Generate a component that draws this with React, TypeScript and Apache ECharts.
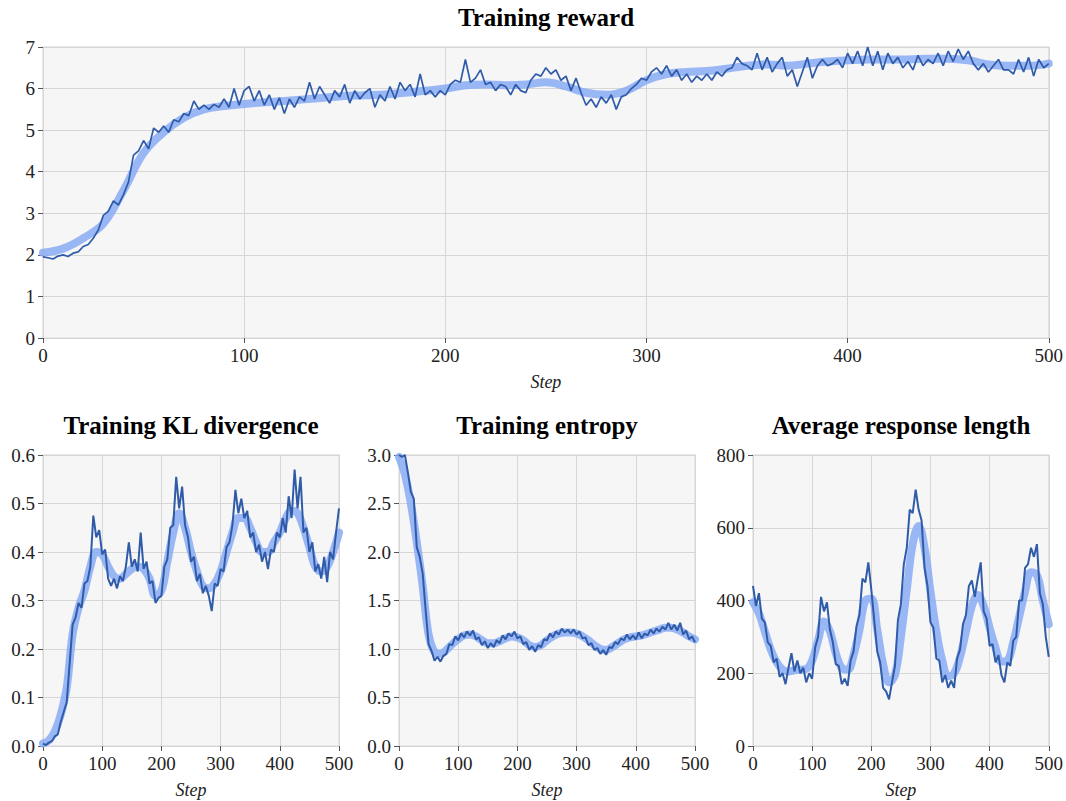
import React, { useEffect, useRef } from "react";
import * as echarts from "echarts";

// Raw reward, sampled every 2.5 steps (0..500)
const rewardRaw = [
  1.95, 1.93, 1.9, 1.97, 2.0, 1.96, 2.04, 2.07, 2.2, 2.25, 2.4, 2.6, 2.95, 3.05, 3.3, 3.2, 3.45, 3.75, 4.4, 4.5,
  4.75, 4.55, 5.05, 4.95, 5.1, 4.95, 5.25, 5.2, 5.4, 5.35, 5.7, 5.5, 5.6, 5.5, 5.62, 5.55, 5.75, 5.55, 6.0, 5.6,
  5.95, 6.05, 5.7, 5.95, 5.6, 5.85, 5.5, 5.78, 5.4, 5.75, 5.55, 5.8, 5.7, 6.15, 5.75, 6.05, 5.85, 5.65, 5.95, 5.8,
  6.1, 5.65, 5.95, 5.75, 5.9, 6.0, 5.55, 5.85, 5.7, 6.05, 5.75, 6.15, 5.95, 6.1, 5.8, 6.35, 5.85, 5.95, 5.8, 5.95,
  5.85, 6.1, 6.2, 6.15, 6.7, 6.15, 6.25, 6.45, 6.1, 6.15, 5.95, 6.1, 6.05, 5.85, 6.1, 5.95, 5.9, 6.2, 6.35, 6.3,
  6.5, 6.35, 6.45, 6.2, 6.3, 5.95, 6.25, 5.9, 5.6, 5.75, 5.55, 5.8, 5.65, 5.85, 5.5, 5.8, 5.85, 6.0, 6.1, 6.25,
  6.2, 6.4, 6.5, 6.35, 6.55, 6.3, 6.45, 6.2, 6.35, 6.15, 6.3, 6.2, 6.35, 6.2, 6.4, 6.3, 6.45, 6.5, 6.75, 6.6,
  6.55, 6.45, 6.85, 6.45, 6.75, 6.4, 6.6, 6.75, 6.3, 6.45, 6.05, 6.4, 6.75, 6.25, 6.55, 6.7, 6.55, 6.6, 6.7, 6.5,
  6.85, 6.6, 6.9, 6.55, 7.0, 6.55, 6.9, 6.45, 6.85, 6.6, 6.75, 6.5, 6.65, 6.45, 6.8, 6.55, 6.7, 6.6, 6.85, 6.55,
  6.9, 6.65, 6.95, 6.7, 6.9, 6.6, 6.45, 6.6, 6.4, 6.55, 6.7, 6.45, 6.45, 6.35, 6.7, 6.4, 6.75, 6.3, 6.7, 6.5,
  6.6,
];
// Raw KL / entropy / length, sampled every 5 steps (0..500)
const klRaw = [
  0.005, 0.002, 0.007, 0.01, 0.02, 0.024, 0.05, 0.07, 0.09, 0.17, 0.25, 0.265, 0.295, 0.285, 0.335, 0.34, 0.37, 0.475, 0.43, 0.445,
  0.395, 0.405, 0.345, 0.33, 0.345, 0.325, 0.35, 0.34, 0.37, 0.42, 0.37, 0.385, 0.36, 0.44, 0.365, 0.38, 0.335, 0.34, 0.295, 0.305,
  0.31, 0.37, 0.385, 0.45, 0.455, 0.555, 0.49, 0.535, 0.455, 0.43, 0.38, 0.39, 0.34, 0.355, 0.315, 0.33, 0.31, 0.278, 0.335, 0.33,
  0.365, 0.36, 0.41, 0.42, 0.455, 0.528, 0.48, 0.51, 0.47, 0.485, 0.43, 0.44, 0.4, 0.415, 0.38, 0.4, 0.365, 0.405, 0.4, 0.44,
  0.43, 0.47, 0.44, 0.515, 0.47, 0.57, 0.49, 0.555, 0.44, 0.45, 0.4, 0.42, 0.36, 0.375, 0.345, 0.39, 0.338, 0.4, 0.385, 0.44, 0.49,
];
const entropyRaw = [
  3.0, 2.98, 3.0, 2.82, 2.62, 2.55, 2.05, 1.95, 1.78, 1.4, 1.05, 0.98, 0.88, 0.92, 0.87, 0.93, 0.95, 1.05, 1.04, 1.13,
  1.09, 1.16, 1.12, 1.18, 1.14, 1.19, 1.1, 1.12, 1.04, 1.08, 1.01, 1.06, 1.02, 1.09, 1.06, 1.14, 1.1, 1.16, 1.13, 1.18,
  1.11, 1.13, 1.05, 1.07, 0.99, 1.03, 0.97, 1.04, 1.02, 1.1, 1.09, 1.16, 1.12, 1.18, 1.15, 1.21, 1.17, 1.2, 1.16, 1.2,
  1.15, 1.18, 1.11, 1.12, 1.04, 1.06, 0.99, 1.01, 0.95, 0.99, 0.94, 1.02, 1.01, 1.07, 1.05, 1.11, 1.09, 1.15, 1.1, 1.14,
  1.1, 1.17, 1.11, 1.16, 1.14, 1.2, 1.16, 1.21, 1.18, 1.23, 1.2, 1.27, 1.2, 1.25, 1.19, 1.27, 1.15, 1.19, 1.1, 1.13, 1.07,
];
const lengthRaw = [
  440, 385, 420, 350, 340, 285, 275, 230, 240, 190, 200, 170, 215, 255, 205, 235, 200, 215, 175, 200,
  185, 270, 300, 410, 370, 395, 320, 285, 225, 220, 170, 185, 165, 235, 260, 330, 360, 460, 450, 505,
  430, 345, 260, 230, 160, 150, 128, 175, 220, 345, 390, 500, 545, 650, 640, 705, 650, 620, 490, 440,
  340, 325, 240, 235, 175, 195, 160, 180, 160, 240, 265, 335, 360, 440, 455, 410, 460, 505, 370, 350,
  275, 280, 230, 250, 195, 175, 230, 220, 290, 300, 400, 400, 490, 500, 545, 520, 555, 420, 390, 300, 245,
];

// Smoothed trend series, sampled every 10 steps (0..500)
const rewardSmooth = [
  2.05, 2.15, 2.4, 2.75, 3.55, 4.45, 4.95, 5.3, 5.5, 5.58,
  5.63, 5.67, 5.7, 5.74, 5.78, 5.82, 5.84, 5.86, 5.9, 5.95,
  6.0, 6.08, 6.1, 6.08, 6.1, 6.15, 6.05, 5.9, 5.85, 5.95,
  6.2, 6.35, 6.4, 6.42, 6.48, 6.55, 6.58, 6.55, 6.6, 6.65,
  6.68, 6.7, 6.7, 6.7, 6.72, 6.72, 6.68, 6.58, 6.55, 6.55, 6.6,
];
const klSmooth = [
  0.005, 0.012, 0.03, 0.065, 0.12, 0.23, 0.285, 0.32, 0.37, 0.4,
  0.395, 0.37, 0.35, 0.345, 0.355, 0.365, 0.37, 0.365, 0.345, 0.31,
  0.32, 0.38, 0.44, 0.48, 0.45, 0.4, 0.36, 0.33, 0.325, 0.335,
  0.36, 0.4, 0.44, 0.47, 0.47, 0.45, 0.42, 0.4, 0.4, 0.42,
  0.44, 0.47, 0.485, 0.48, 0.45, 0.41, 0.37, 0.36, 0.37, 0.4, 0.44,
];
const entropySmooth = [
  2.98, 2.8, 2.5, 2.1, 1.65, 1.15, 0.97, 0.95, 0.99, 1.05,
  1.1, 1.14, 1.15, 1.13, 1.09, 1.06, 1.06, 1.08, 1.11, 1.13,
  1.12, 1.09, 1.04, 1.02, 1.04, 1.09, 1.13, 1.16, 1.17, 1.17,
  1.16, 1.13, 1.09, 1.04, 1.0, 0.99, 1.02, 1.06, 1.1, 1.12,
  1.13, 1.14, 1.16, 1.18, 1.2, 1.22, 1.22, 1.2, 1.17, 1.13, 1.1,
];
const lengthSmooth = [
  395, 365, 315, 265, 230, 210, 205, 208, 210, 212,
  235, 290, 342, 315, 255, 215, 210, 250, 320, 400,
  405, 320, 225, 175, 195, 300, 430, 555, 605, 545,
  425, 315, 235, 192, 200, 245, 315, 385, 415, 385,
  325, 270, 232, 235, 285, 355, 425, 478, 470, 400, 335,
];

const titles = ["Training reward", "Training KL divergence", "Training entropy", "Average response length"];
const xTicks = [0, 100, 200, 300, 400, 500];
const yRanges = [
  { min: 0, max: 7, interval: 1, digits: 0 },
  { min: 0, max: 0.6, interval: 0.1, digits: 1 },
  { min: 0, max: 3, interval: 0.5, digits: 1 },
  { min: 0, max: 800, interval: 200, digits: 0 },
];
const rawEvery = [2.5, 5, 5, 5];

const FONT = "'Liberation Serif', serif";
const RAW_COLOR = "#2f5ba8";
const SMOOTH_COLOR = "rgba(138,172,245,0.85)";

const withSteps = (arr: number[], every: number) => arr.map((v, i) => [i * every, v]);

export default function App() {
  const ref = useRef<HTMLDivElement>(null);
  useEffect(() => {
    if (!ref.current) return;
    const chart = echarts.init(ref.current, null, { renderer: "svg" });
    const grids = [
      { left: 43, top: 47, width: 1006, height: 291 },
      { left: 43, top: 455, width: 296, height: 291 },
      { left: 399, top: 455, width: 296, height: 291 },
      { left: 753, top: 455, width: 296, height: 291 },
    ];
    const raws = [rewardRaw, klRaw, entropyRaw, lengthRaw];
    const smooths = [rewardSmooth, klSmooth, entropySmooth, lengthSmooth];
    const option: any = {
      animation: false,
      backgroundColor: "#ffffff",
      textStyle: { fontFamily: FONT },
      grid: grids.map((g) => ({
        ...g,
        show: true,
        backgroundColor: "#f6f6f6",
        borderColor: "#e2e2e2",
        borderWidth: 1.5,
        containLabel: false,
      })),
      xAxis: grids.map((_, i) => ({
        type: "value",
        gridIndex: i,
        min: xTicks[0],
        max: xTicks[xTicks.length - 1],
        interval: xTicks[1] - xTicks[0],
        name: "Step",
        nameLocation: "middle",
        nameGap: 35,
        nameTextStyle: { fontFamily: FONT, fontStyle: "italic", fontSize: 18, color: "#222" },
        axisLine: { show: false },
        axisTick: { show: true, length: 5, lineStyle: { color: "#555", width: 1 } },
        axisLabel: { fontFamily: FONT, fontSize: 19, color: "#222", margin: 8 },
        splitLine: { show: true, lineStyle: { color: "#d6d6d6", width: 1 } },
      })),
      yAxis: grids.map((_, i) => ({
        type: "value",
        gridIndex: i,
        min: yRanges[i].min,
        max: yRanges[i].max,
        interval: yRanges[i].interval,
        axisLine: { show: false },
        axisTick: { show: true, length: 5, lineStyle: { color: "#555", width: 1 } },
        axisLabel: {
          fontFamily: FONT,
          fontSize: 19,
          color: "#222",
          margin: 8,
          formatter: (v: number) => v.toFixed(yRanges[i].digits),
        },
        splitLine: { show: true, lineStyle: { color: "#d6d6d6", width: 1 } },
      })),
      series: [
        ...smooths.map((s, i) => ({
          type: "line",
          xAxisIndex: i,
          yAxisIndex: i,
          data: withSteps(s, 10),
          smooth: 0.4,
          showSymbol: false,
          lineStyle: { color: SMOOTH_COLOR, width: 8, cap: "round", join: "round" },
          z: 2,
        })),
        ...raws.map((r, i) => ({
          type: "line",
          xAxisIndex: i,
          yAxisIndex: i,
          data: withSteps(r, rawEvery[i]),
          showSymbol: false,
          lineStyle: { color: RAW_COLOR, width: i === 0 ? 1.7 : 2 },
          z: 3,
        })),
      ],
      graphic: titles.map((t, i) => ({
        type: "text",
        x: grids[i].left + grids[i].width / 2,
        y: i === 0 ? 17 : 425,
        style: {
          text: t,
          fill: "#000",
          font: `bold 25px ${FONT}`,
          align: "center",
          verticalAlign: "middle",
        },
      })),
    };
    chart.setOption(option);
    return () => chart.dispose();
  }, []);
  return (
    <div
      ref={ref}
      style={{ position: "fixed", left: 0, top: 0, width: 1066, height: 801, background: "#fff" }}
    />
  );
}
